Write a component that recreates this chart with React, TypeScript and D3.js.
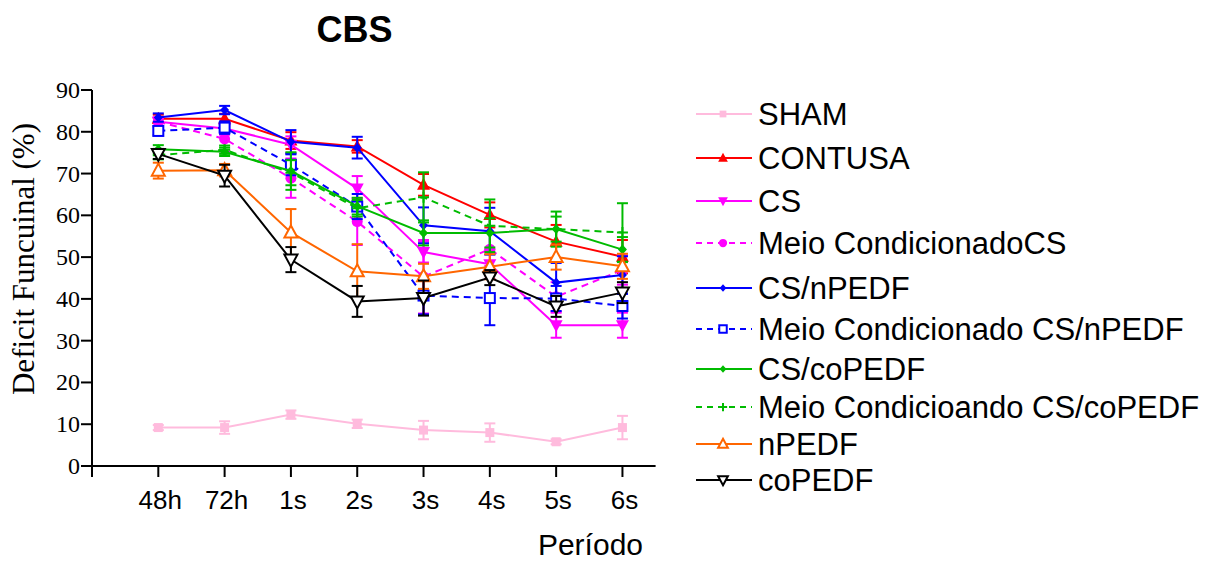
import React from "react";
import * as d3 from "d3";

const categories = ["48h", "72h", "1s", "2s", "3s", "4s", "5s", "6s"];
const yTicks = [0, 10, 20, 30, 40, 50, 60, 70, 80, 90];

const seriesNames = [
  "SHAM",
  "CONTUSA",
  "CS",
  "Meio CondicionadoCS",
  "CS/nPEDF",
  "Meio Condicionado CS/nPEDF",
  "CS/coPEDF",
  "Meio Condicioando CS/coPEDF",
  "nPEDF",
  "coPEDF",
];

const shamValues = [9.2, 9.2, 12.3, 10.1, 8.6, 8.0, 5.8, 9.2];
const shamErr = [0.6, 1.5, 1.0, 1.0, 2.2, 2.2, 0.6, 2.8];
const contusaValues = [83.1, 83.1, 77.9, 76.5, 67.3, 60.1, 53.7, 50.1];
const contusaErr = [1.0, 1.2, 2.0, 1.5, 2.6, 3.0, 4.0, 4.0];
const csValues = [82.4, 80.8, 76.9, 66.4, 51.2, 48.3, 33.7, 33.7];
const csErr = [1.0, 1.5, 2.0, 3.0, 2.5, 3.5, 3.0, 3.0];
const meioCsValues = [82.4, 78.3, 68.9, 58.5, 45.3, 51.9, 40.5, 46.9];
const meioCsErr = [1.0, 3.0, 4.7, 5.6, 8.8, 4.0, 3.5, 3.5];
const csNValues = [83.4, 85.2, 77.6, 76.2, 57.6, 56.2, 43.9, 45.7];
const csNErr = [1.0, 1.0, 2.8, 2.6, 4.3, 5.6, 4.7, 4.5];
const meioCsNValues = [80.2, 81.0, 72.1, 62.1, 40.8, 40.2, 40.1, 38.3];
const meioCsNErr = [1.0, 1.5, 2.5, 3.0, 4.5, 6.5, 3.0, 3.0];
const csCoValues = [75.8, 75.2, 70.6, 62.2, 55.8, 55.8, 56.7, 51.8];
const csCoErr = [1.0, 1.0, 4.5, 2.0, 3.0, 3.5, 4.2, 3.0];
const meioCoValues = [74.4, 75.7, 70.2, 61.7, 64.3, 57.5, 56.7, 55.9];
const meioCoErr = [1.0, 1.0, 3.0, 2.0, 6.0, 6.3, 3.0, 7.0];
const nPedfValues = [70.7, 70.8, 55.9, 46.6, 45.4, 47.7, 50.0, 47.8];
const nPedfErr = [1.9, 1.5, 5.6, 6.5, 3.0, 3.0, 3.0, 3.0];
const coPedfValues = [74.7, 69.5, 49.4, 39.4, 40.2, 45.1, 38.2, 41.5];
const coPedfErr = [1.2, 2.6, 3.0, 3.7, 4.2, 1.8, 2.5, 2.5];

type Marker = "sqF" | "triUpF" | "triDnF" | "circF" | "diaF" | "sqO" | "plus" | "triUpO" | "triDnO";

const styles: { color: string; dashed: boolean; marker: Marker }[] = [
  { color: "#FFBBDD", dashed: false, marker: "sqF" },
  { color: "#FF0000", dashed: false, marker: "triUpF" },
  { color: "#FF00FF", dashed: false, marker: "triDnF" },
  { color: "#FF00FF", dashed: true, marker: "circF" },
  { color: "#0000FF", dashed: false, marker: "diaF" },
  { color: "#0000FF", dashed: true, marker: "sqO" },
  { color: "#00BB00", dashed: false, marker: "diaF" },
  { color: "#00BB00", dashed: true, marker: "plus" },
  { color: "#FF6600", dashed: false, marker: "triUpO" },
  { color: "#000000", dashed: false, marker: "triDnO" },
];

const allValues = [
  shamValues, contusaValues, csValues, meioCsValues, csNValues,
  meioCsNValues, csCoValues, meioCoValues, nPedfValues, coPedfValues,
];
const allErr = [
  shamErr, contusaErr, csErr, meioCsErr, csNErr,
  meioCsNErr, csCoErr, meioCoErr, nPedfErr, coPedfErr,
];

const legendRowY = [114, 158, 201, 243, 288, 329, 369, 407, 444, 480];

function MarkerShape({ type, x, y, color, scale = 1 }: { type: Marker; x: number; y: number; color: string; scale?: number }) {
  const s = scale;
  switch (type) {
    case "sqF":
      return <rect x={x - 4.5 * s} y={y - 4.5 * s} width={9 * s} height={9 * s} fill={color} />;
    case "sqO":
      return <rect x={x - 5 * s} y={y - 5 * s} width={10 * s} height={10 * s} fill="white" stroke={color} strokeWidth={2} />;
    case "triUpF":
      return <path d={`M${x},${y - 7 * s}L${x + 6.5 * s},${y + 5 * s}L${x - 6.5 * s},${y + 5 * s}Z`} fill={color} />;
    case "triDnF":
      return <path d={`M${x},${y + 7 * s}L${x + 6.5 * s},${y - 5 * s}L${x - 6.5 * s},${y - 5 * s}Z`} fill={color} />;
    case "triUpO":
      return <path d={`M${x},${y - 7 * s}L${x + 6.5 * s},${y + 5 * s}L${x - 6.5 * s},${y + 5 * s}Z`} fill="white" stroke={color} strokeWidth={2} />;
    case "triDnO":
      return <path d={`M${x},${y + 7 * s}L${x + 6.5 * s},${y - 5 * s}L${x - 6.5 * s},${y - 5 * s}Z`} fill="white" stroke={color} strokeWidth={2} />;
    case "circF":
      return <circle cx={x} cy={y} r={5.5 * s} fill={color} />;
    case "diaF":
      return <path d={`M${x},${y - 5 * s}L${x + 4.5 * s},${y}L${x},${y + 5 * s}L${x - 4.5 * s},${y}Z`} fill={color} />;
    case "plus":
      return (
        <path d={`M${x - 5.5 * s},${y}L${x + 5.5 * s},${y}M${x},${y - 5.5 * s}L${x},${y + 5.5 * s}`} stroke={color} strokeWidth={2} fill="none" />
      );
  }
  return null;
}

export default function App() {
  const width = 1211;
  const height = 563;
  const x = d3.scaleLinear().domain([0, 8.5]).range([92, 655.6]);
  const y = d3.scaleLinear().domain([0, 90]).range([466, 90]);
  const line = d3
    .line<number>()
    .x((_, i) => x(i + 1))
    .y((d) => y(d));

  const sans = "'Liberation Sans', Arial, sans-serif";
  const serif = "'Liberation Serif', 'Times New Roman', serif";

  return (
    <svg width={width} height={height} style={{ position: "absolute", left: 0, top: 0, background: "white" }}>
      <rect x={0} y={0} width={width} height={height} fill="white" />
      <text x={354.5} y={41.5} textAnchor="middle" fontFamily={sans} fontWeight="bold" fontSize={36}>
        CBS
      </text>

      {/* Y axis */}
      <line x1={x(0)} x2={x(0)} y1={y(90)} y2={477} stroke="black" strokeWidth={2} />
      {yTicks.map((t) => (
        <g key={t}>
          <line x1={x(0) - 11} x2={x(0)} y1={y(t)} y2={y(t)} stroke="black" strokeWidth={2} />
          <text x={80} y={y(t) + 8} textAnchor="end" fontFamily={serif} fontSize={24}>
            {t}
          </text>
        </g>
      ))}
      <text
        transform={`translate(34,259) rotate(-90)`}
        textAnchor="middle"
        fontFamily={serif}
        fontSize={31}
      >
        Deficit Funcuinal (%)
      </text>

      {/* X axis */}
      <line x1={x(0)} x2={x(8.5)} y1={y(0)} y2={y(0)} stroke="black" strokeWidth={2} />
      {categories.map((c, i) => (
        <g key={c}>
          <line x1={x(i + 1)} x2={x(i + 1)} y1={y(0)} y2={y(0) + 11} stroke="black" strokeWidth={2} />
          <text x={x(i + 1) + 2} y={509} textAnchor="middle" fontFamily={sans} fontSize={26}>
            {c}
          </text>
        </g>
      ))}
      <text x={643} y={555} textAnchor="end" fontFamily={sans} fontSize={30}>
        Período
      </text>

      {/* Series */}
      {allValues.map((vals, si) => {
        const st = styles[si];
        const errs = allErr[si];
        return (
          <g key={seriesNames[si]}>
            {vals.map((v, i) => {
              const cx = x(i + 1);
              const top = y(v + errs[i]);
              const bot = y(v - errs[i]);
              return (
                <g key={i} stroke={st.color} strokeWidth={2}>
                  <line x1={cx} x2={cx} y1={top} y2={bot} />
                  <line x1={cx - 5.5} x2={cx + 5.5} y1={top} y2={top} />
                  <line x1={cx - 5.5} x2={cx + 5.5} y1={bot} y2={bot} />
                </g>
              );
            })}
            <path
              d={line(vals) || ""}
              fill="none"
              stroke={st.color}
              strokeWidth={2}
              strokeDasharray={st.dashed ? "7,5" : undefined}
            />
            {vals.map((v, i) => (
              <MarkerShape key={i} type={st.marker} x={x(i + 1)} y={y(v)} color={st.color} />
            ))}
          </g>
        );
      })}

      {/* Legend */}
      {seriesNames.map((name, i) => {
        const st = styles[i];
        const ly = legendRowY[i];
        return (
          <g key={name}>
            <line
              x1={696}
              x2={752}
              y1={ly}
              y2={ly}
              stroke={st.color}
              strokeWidth={2}
              strokeDasharray={st.dashed ? "6,5" : undefined}
            />
            <MarkerShape type={st.marker} x={723} y={ly} color={st.color} scale={0.75} />
            <text x={758} y={ly + 11} fontFamily={sans} fontSize={31}>
              {name}
            </text>
          </g>
        );
      })}
    </svg>
  );
}
